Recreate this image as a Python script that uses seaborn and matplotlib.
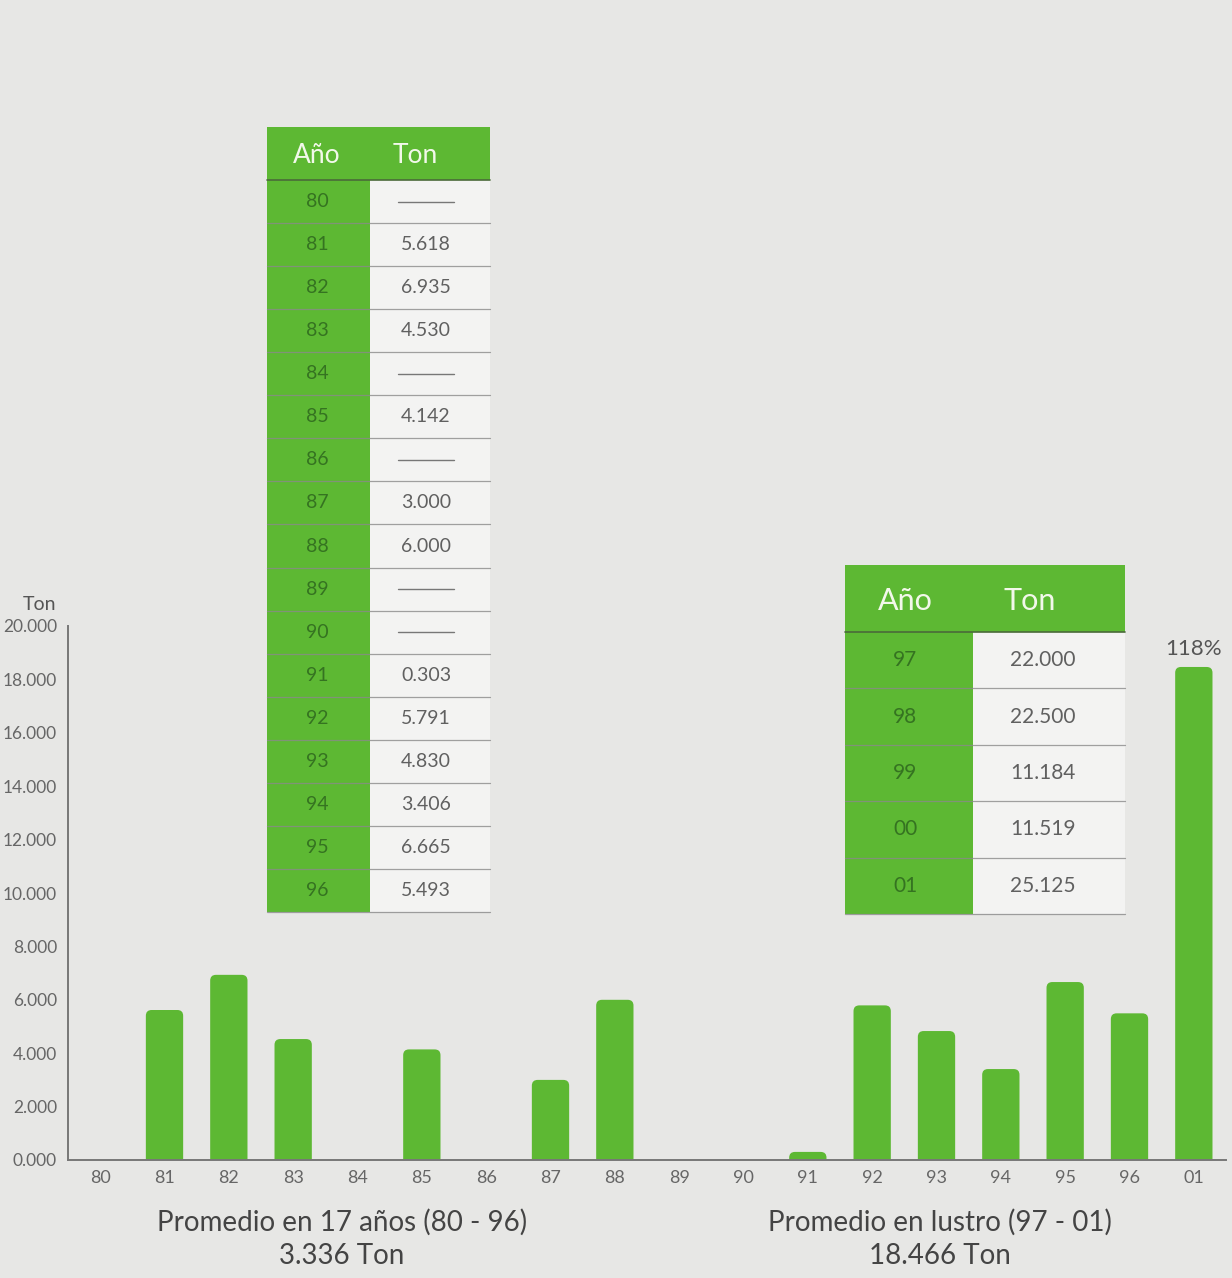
import numpy as np
import pandas as pd
import matplotlib
matplotlib.use("Agg")
import matplotlib.pyplot as plt
from matplotlib.patches import Rectangle, FancyBboxPatch
import seaborn as sns

# === Data ===
years_old = ["80", "81", "82", "83", "84", "85", "86", "87", "88",
             "89", "90", "91", "92", "93", "94", "95", "96"]
tons_old = [np.nan, 5618, 6935, 4530, np.nan, 4142, np.nan, 3000, 6000,
            np.nan, np.nan, 303, 5791, 4830, 3406, 6665, 5493]
years_new = ["97", "98", "99", "00", "01"]
tons_new = [22000, 22500, 11184, 11519, 25125]
growth_label = "118%"

avg_old = np.nansum(tons_old) / len(tons_old)
avg_new = np.mean(tons_new)

bar_cats = years_old + ["01"]
bar_vals = [0 if np.isnan(v) else v for v in tons_old] + [avg_new]
df = pd.DataFrame({"year": bar_cats, "ton": bar_vals})

def fmt(v):
    return f"{v / 1000:.3f}"

# === Style ===
sns.set_style("white")
plt.rcParams["font.family"] = ["Lato", "DejaVu Sans"]
GREEN = "#5db833"
DARK_GREEN = "#357321"
GREY = "#666666"
BG = "#e7e7e5"

W, H = 1232, 1278
fig = plt.figure(figsize=(W / 100, H / 100), dpi=100, facecolor=BG)

# === Bar chart ===
left, right, bottom, top = 68, 1226, 1160, 626
ax = fig.add_axes([left / W, 1 - bottom / H, (right - left) / W, (bottom - top) / H])
ax.set_facecolor("none")
sns.barplot(data=df, x="year", y="ton", order=bar_cats, color=GREEN,
            width=0.58, saturation=1, ax=ax)
ax.set_xlim(-0.5, len(bar_cats) - 0.5)
ax.set_ylim(0, 20000)

# rounded bar tops
px_x = (right - left) / len(bar_cats)
px_y = (bottom - top) / 20000
aspect = px_x / px_y
for p in list(ax.patches):
    x, w, h = p.get_x(), p.get_width(), p.get_height()
    p.remove()
    if h <= 0:
        continue
    ax.add_patch(FancyBboxPatch((x, -800), w, h + 800,
                                boxstyle="round,pad=0,rounding_size=0.09",
                                mutation_aspect=aspect, fc=GREEN, ec="none"))

ax.set_yticks(np.arange(0, 20001, 2000))
ax.set_yticklabels([fmt(v) for v in np.arange(0, 20001, 2000)])
ax.set_xticks(np.arange(len(bar_cats)) + 0.5, minor=True)
ax.tick_params(axis="y", length=5, width=1, color="#777777", labelsize=12.5,
               labelcolor=GREY, pad=3)
ax.tick_params(axis="x", which="major", length=0, labelsize=13,
               labelcolor=GREY, pad=7)
ax.tick_params(axis="x", which="minor", length=5, width=1, color="#777777",
               direction="out")
sns.despine(ax=ax)
for s in ["left", "bottom"]:
    ax.spines[s].set_color("#777777")
    ax.spines[s].set_linewidth(1.4)
ax.set_xlabel("")
ax.set_ylabel("")
ax.text(-0.95, 20800, "Ton", fontsize=14, color="#555555", ha="center", va="center")
ax.text(len(bar_cats) - 1, avg_new + 300, growth_label, fontsize=16,
        color="#555555", ha="center", va="bottom")

# === Overlay for tables and captions (figure pixel space) ===
ov = fig.add_axes([0, 0, 1, 1], zorder=5)
ov.set_xlim(0, W)
ov.set_ylim(H, 0)
ov.axis("off")
ov.patch.set_alpha(0)


def draw_table(x0, xs, x1, y_top, y_head, y_bot, years, tons, head_fs, val_fs,
               x_year, x_val, x_ton):
    n = len(years)
    rh = (y_bot - y_head) / n
    ov.add_patch(Rectangle((xs, y_head), x1 - xs, y_bot - y_head, fc="#f3f3f2", ec="none"))
    ov.add_patch(Rectangle((x0, y_top), x1 - x0, y_head - y_top, fc=GREEN, ec="none"))
    ov.add_patch(Rectangle((x0, y_head), xs - x0, y_bot - y_head, fc=GREEN, ec="none"))
    ov.text(x_year, (y_top + y_head) / 2 + 2, "Año", fontsize=head_fs, color="#f2f8ea",
            ha="center", va="center")
    ov.text(x_ton, (y_top + y_head) / 2 + 2, "Ton", fontsize=head_fs, color="#f2f8ea",
            ha="center", va="center")
    ov.plot([x0, x1], [y_head, y_head], color="#4a6a3a", lw=1.2)
    for i, (yr, t) in enumerate(zip(years, tons)):
        yc = y_head + (i + 0.5) * rh
        ov.text(x_year, yc, yr, fontsize=val_fs, color=DARK_GREEN, ha="center", va="center")
        if np.isnan(t):
            ov.plot([x_val - 28, x_val + 28], [yc, yc], color="#777777", lw=1)
        else:
            ov.text(x_val, yc, fmt(t), fontsize=val_fs, color="#606060",
                    ha="center", va="center")
        yl = y_head + (i + 1) * rh
        ov.plot([x0, x1], [yl, yl], color="#8a8a8a", lw=0.9, alpha=0.8)


draw_table(267, 370, 490, 127, 180, 912, years_old, tons_old, 19, 14, 317, 426, 415)
draw_table(845, 973, 1125, 565, 632, 914, years_new, tons_new, 22, 15, 905, 1043, 1030)

# === Captions ===
ov.text(342, 1222, "Promedio en 17 años (80 - 96)", fontsize=20, color="#444444",
        ha="center", va="center")
ov.text(342, 1256, f"{fmt(avg_old)} Ton", fontsize=20, color="#444444",
        ha="center", va="center")
ov.text(940, 1222, "Promedio en lustro (97 - 01)", fontsize=20, color="#444444",
        ha="center", va="center")
ov.text(940, 1256, f"{fmt(avg_new)} Ton", fontsize=20, color="#444444",
        ha="center", va="center")

fig.savefig("out.png", dpi=100, facecolor=BG)
